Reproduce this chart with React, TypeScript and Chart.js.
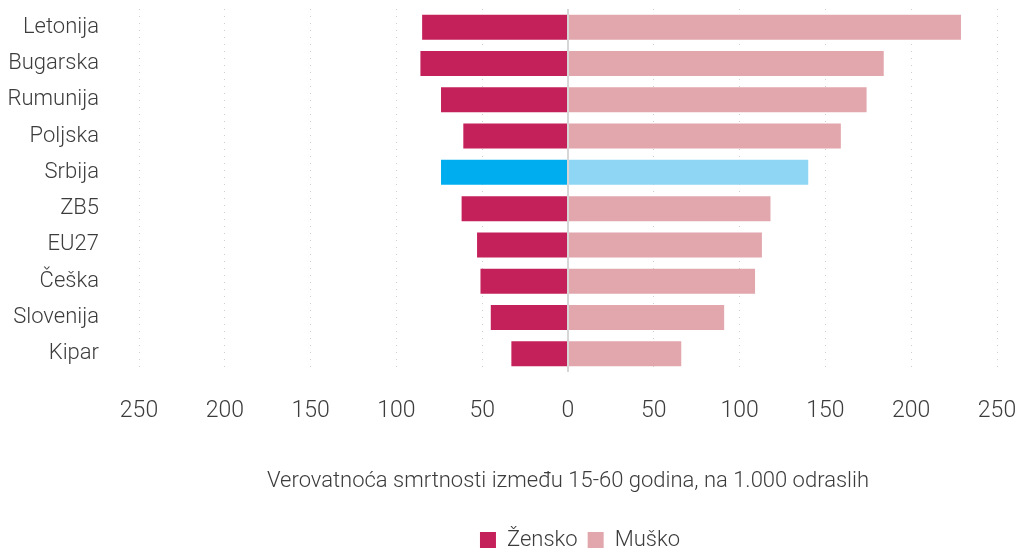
import React, { useEffect, useRef } from "react";
import { Chart, registerables } from "chart.js";

Chart.register(...registerables);

const categories = ["Letonija", "Bugarska", "Rumunija", "Poljska", "Srbija", "ZB5", "EU27", "Češka", "Slovenija", "Kipar"];
const femaleValues = [85, 86, 74, 61, 74, 62, 53, 51, 45, 33];
const maleValues = [229, 184, 174, 159, 140, 118, 113, 109, 91, 66];
const highlight = "Srbija";
const seriesNames = ["Žensko", "Muško"];
const axisTitle = "Verovatnoća smrtnosti između 15-60 godina, na 1.000 odraslih";

const FONT = "Roboto, 'DejaVu Sans Condensed', sans-serif";
const TEXT = "#3c3c3c";

const zeroLine = {
  id: "zeroLine",
  afterDatasetsDraw(chart: any) {
    const x = chart.scales.x.getPixelForValue(0);
    const { top, bottom } = chart.chartArea;
    const ctx = chart.ctx;
    ctx.save();
    ctx.strokeStyle = "#d6d6d6";
    ctx.lineWidth = 2;
    ctx.beginPath();
    ctx.moveTo(x, top);
    ctx.lineTo(x, bottom);
    ctx.stroke();
    ctx.restore();
  },
};

const legendShift = {
  id: "legendShift",
  afterLayout(chart: any) {
    const lg = chart.legend;
    if (!lg) return;
    lg.top += 11;
    lg.bottom += 11;
    lg.left += 12;
    lg.right += 12;
  },
};

export default function App() {
  const ref = useRef<HTMLCanvasElement>(null);
  useEffect(() => {
    const hi = categories.indexOf(highlight);
    const chart = new Chart(ref.current!, {
      type: "bar",
      data: {
        labels: categories,
        datasets: [
          {
            label: seriesNames[0],
            data: femaleValues.map((v) => -v),
            backgroundColor: (c: any) => (c.dataIndex === hi ? "#00AEEF" : "#C42059"),
            barPercentage: 0.69,
            categoryPercentage: 1,
          },
          {
            label: seriesNames[1],
            data: maleValues,
            backgroundColor: (c: any) => (c.dataIndex === hi ? "#8FD6F5" : "#E2A6AD"),
            barPercentage: 0.69,
            categoryPercentage: 1,
          },
        ],
      },
      options: {
        indexAxis: "y",
        animation: false,
        responsive: false,
        maintainAspectRatio: false,
        layout: { padding: { top: 9, right: 21, left: 0, bottom: 0 } },
        scales: {
          x: {
            stacked: true,
            min: -250,
            max: 250,
            afterFit: (s: any) => {
              s.height = 136;
              s.paddingLeft = 0;
              s.paddingRight = 0;
            },
            ticks: {
              stepSize: 50,
              padding: 25,
              color: TEXT,
              font: { family: FONT, size: 23, weight: 300 },
              callback: (v: any) => String(Math.abs(Number(v))),
              maxRotation: 0,
            },
            grid: { color: "#cfcfcf", lineWidth: 1, drawTicks: false },
            border: { display: false, dash: [1, 6] },
            title: {
              display: true,
              text: axisTitle,
              color: TEXT,
              font: { family: FONT, size: 22, weight: 300 },
              padding: { top: 30, bottom: 13 },
            },
          },
          y: {
            stacked: true,
            afterFit: (s: any) => {
              s.width = 139;
              s.paddingTop = 0;
              s.paddingBottom = 0;
            },
            ticks: {
              padding: 40,
              autoSkip: false,
              color: TEXT,
              font: { family: FONT, size: 22, weight: 300 },
            },
            grid: { display: false, drawTicks: false },
            border: { display: false },
          },
        },
        plugins: {
          legend: {
            position: "bottom",
            fullSize: false,
            labels: {
              boxWidth: 16,
              boxHeight: 16,
              padding: 10,
              color: TEXT,
              font: { family: FONT, size: 22, weight: 300 },
            },
          },
          tooltip: { enabled: false },
        },
      },
      plugins: [zeroLine, legendShift],
    } as any);
    return () => chart.destroy();
  }, []);
  return (
    <div style={{ position: "absolute", left: 0, top: 0, width: 1018, height: 550, background: "#fff" }}>
      <canvas ref={ref} width={1018} height={550} style={{ width: 1018, height: 550, display: "block" }} />
    </div>
  );
}
